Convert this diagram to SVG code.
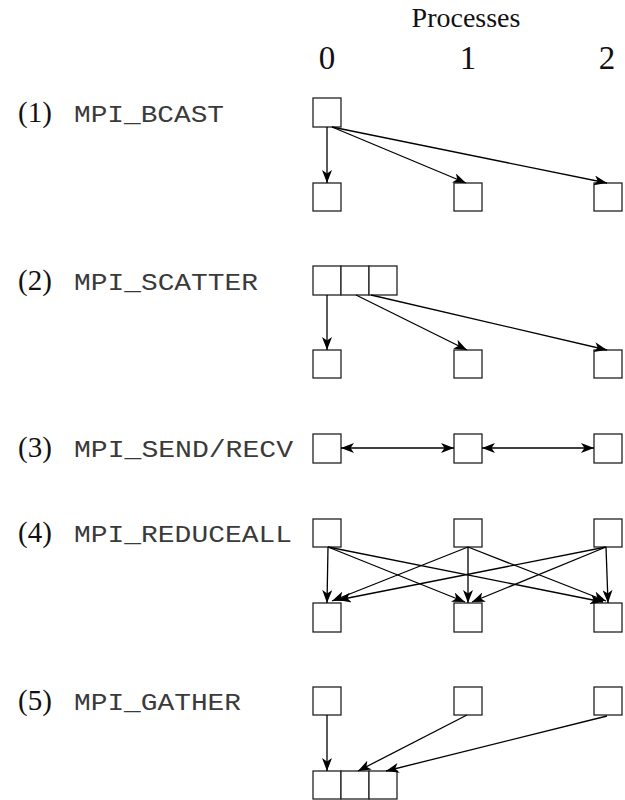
<svg xmlns="http://www.w3.org/2000/svg" width="625" height="800" viewBox="0 0 625 800">
  <style>
    .box { fill: #fff; stroke: #222; stroke-width: 1.3; }
    .link { fill: none; stroke: #000; stroke-width: 1.3; marker-end: url(#head); }
    .both { marker-start: url(#head); }
    .serif { font-family: "Liberation Serif", "Times New Roman", serif; fill: #111; }
    .mono { font-family: "Liberation Mono", "Courier New", monospace; font-size: 24px; fill: #3a3a3a; }
    .num { font-size: 29px; }
  </style>
  <defs>
    <marker id="head" viewBox="0 0 13 10" refX="13" refY="5" markerWidth="13" markerHeight="10" markerUnits="userSpaceOnUse" orient="auto-start-reverse">
      <path d="M0,0 L13,5 L0,10 L3.5,5 z" fill="#000"/>
    </marker>
  </defs>
  <rect width="625" height="800" fill="#fff"/>

  <!-- column header -->
  <g id="header">
    <text class="serif" x="466" y="27" font-size="28" text-anchor="middle">Processes</text>
    <text class="serif" x="327" y="69" font-size="33" text-anchor="middle">0</text>
    <text class="serif" x="468" y="69" font-size="33" text-anchor="middle">1</text>
    <text class="serif" x="607" y="69" font-size="33" text-anchor="middle">2</text>
  </g>

  <!-- operation labels -->
  <g id="labels">
    <text class="serif num" x="18" y="122">(1)</text>
    <text class="mono" x="74" y="122" textLength="150" lengthAdjust="spacingAndGlyphs">MPI_BCAST</text>
    <text class="serif num" x="18" y="290">(2)</text>
    <text class="mono" x="74" y="290" textLength="184" lengthAdjust="spacingAndGlyphs">MPI_SCATTER</text>
    <text class="serif num" x="18" y="457">(3)</text>
    <text class="mono" x="74" y="457" textLength="219" lengthAdjust="spacingAndGlyphs">MPI_SEND/RECV</text>
    <text class="serif num" x="18" y="542">(4)</text>
    <text class="mono" x="74" y="542" textLength="218" lengthAdjust="spacingAndGlyphs">MPI_REDUCEALL</text>
    <text class="serif num" x="18" y="710">(5)</text>
    <text class="mono" x="74" y="710" textLength="167" lengthAdjust="spacingAndGlyphs">MPI_GATHER</text>
  </g>

  <!-- (1) broadcast -->
  <g id="bcast">
    <rect class="box" x="313" y="98" width="28" height="29"/>
    <rect class="box" x="313" y="183" width="28" height="28"/>
    <rect class="box" x="454" y="183" width="28" height="28"/>
    <rect class="box" x="594" y="183" width="28" height="28"/>
  </g>

  <!-- (2) scatter -->
  <g id="scatter">
    <rect class="box" x="313" y="266" width="28" height="29"/>
    <rect class="box" x="341" y="266" width="28" height="29"/>
    <rect class="box" x="369" y="266" width="28" height="29"/>
    <rect class="box" x="313" y="350" width="28" height="28"/>
    <rect class="box" x="454" y="350" width="28" height="28"/>
    <rect class="box" x="594" y="350" width="28" height="28"/>
  </g>

  <!-- (3) send / receive -->
  <g id="sendrecv">
    <rect class="box" x="313" y="434" width="28" height="29"/>
    <rect class="box" x="454" y="434" width="28" height="29"/>
    <rect class="box" x="594" y="434" width="28" height="29"/>
  </g>

  <!-- (4) reduce-all -->
  <g id="reduceall">
    <rect class="box" x="313" y="519" width="28" height="28"/>
    <rect class="box" x="454" y="519" width="28" height="28"/>
    <rect class="box" x="594" y="519" width="28" height="28"/>
    <rect class="box" x="313" y="603" width="28" height="29"/>
    <rect class="box" x="454" y="603" width="28" height="29"/>
    <rect class="box" x="594" y="603" width="28" height="29"/>
  </g>

  <!-- (5) gather -->
  <g id="gather">
    <rect class="box" x="313" y="687" width="28" height="28"/>
    <rect class="box" x="454" y="687" width="28" height="28"/>
    <rect class="box" x="594" y="687" width="28" height="28"/>
    <rect class="box" x="313" y="771" width="28" height="28"/>
    <rect class="box" x="341" y="771" width="28" height="28"/>
    <rect class="box" x="369" y="771" width="28" height="28"/>
  </g>

  <!-- message arrows -->
  <g id="connectors">
    <line class="link" x1="327" y1="127" x2="327" y2="183"/>
    <line class="link" x1="332" y1="127" x2="466" y2="183"/>
    <line class="link" x1="332" y1="127" x2="607" y2="183"/>

    <line class="link" x1="327" y1="295" x2="327" y2="350"/>
    <line class="link" x1="356" y1="295" x2="467" y2="350"/>
    <line class="link" x1="371" y1="295" x2="607" y2="350"/>

    <line class="link both" x1="341" y1="448" x2="454" y2="448"/>
    <line class="link both" x1="482" y1="448" x2="594" y2="448"/>

    <line class="link" x1="328" y1="547" x2="327" y2="603"/>
    <line class="link" x1="328" y1="547" x2="465" y2="602"/>
    <line class="link" x1="328" y1="547" x2="603" y2="602"/>
    <line class="link" x1="468" y1="547" x2="468" y2="603"/>
    <line class="link" x1="468" y1="547" x2="332" y2="601"/>
    <line class="link" x1="468" y1="547" x2="606" y2="601"/>
    <line class="link" x1="606" y1="547" x2="608" y2="603"/>
    <line class="link" x1="606" y1="547" x2="338" y2="600"/>
    <line class="link" x1="606" y1="547" x2="472" y2="602"/>

    <line class="link" x1="327" y1="715" x2="327" y2="771"/>
    <line class="link" x1="467" y1="715" x2="358" y2="771"/>
    <line class="link" x1="607" y1="716" x2="386" y2="771"/>
  </g>
</svg>
